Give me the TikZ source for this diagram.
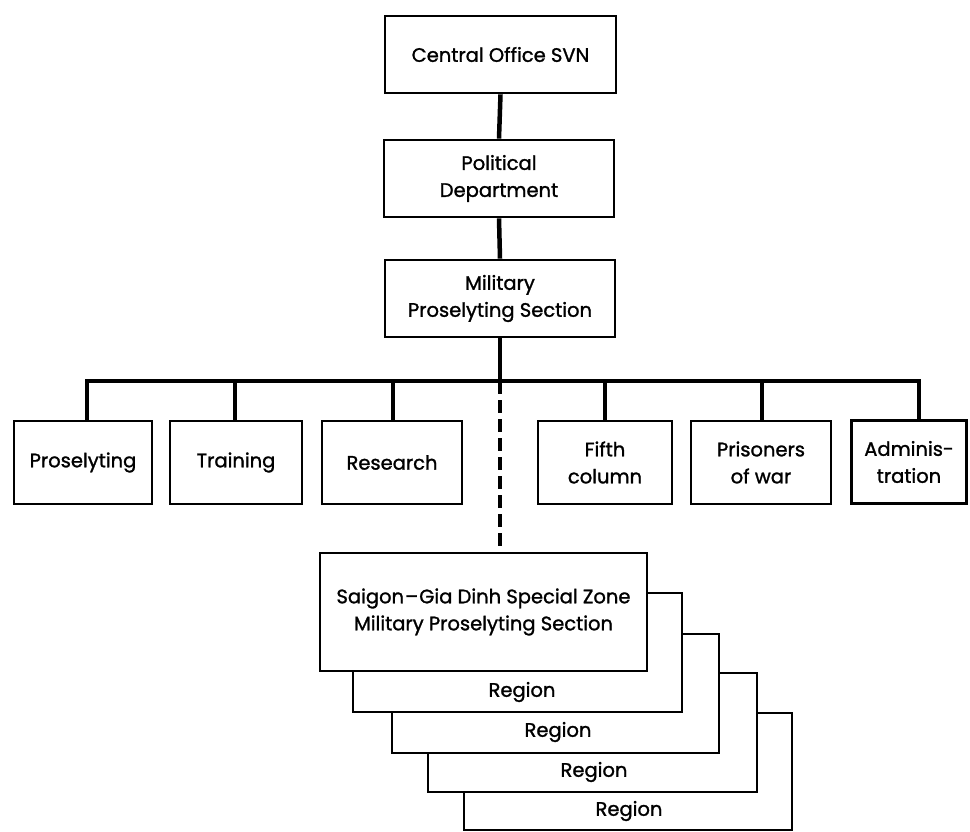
\documentclass[tikz,border=0pt]{standalone}
\usepackage{fontspec}
\setmainfont{Poppins}[FakeBold=1.3]
\begin{document}
\begin{tikzpicture}[x=1pt,y=-1pt,
  box/.style={draw=black, line width=2.7pt, fill=white, align=center, inner sep=0pt,
    font=\fontsize{19.5}{27}\selectfont},
  conn/.style={draw=black, line width=4.5pt},
  dconn/.style={draw=black, line width=4.5pt, dash pattern=on 13pt off 6pt},
  lbl/.style={font=\fontsize{19.5}{27}\selectfont, inner sep=0pt}]
\useasboundingbox (0,0) rectangle (970,832);
% top chain
\node[box, minimum width=231pt, minimum height=77pt] (cen) at (500.5,54.5) {Central Office SVN};
\node[box, minimum width=230pt, minimum height=77pt] (pol) at (499,178.5) {Political\\Department};
\node[box, minimum width=230pt, minimum height=77pt] (mil) at (500,298.5) {Military\\Proselyting Section};
\draw[conn] (cen.south) -- (pol.north);
\draw[conn] (pol.south) -- (mil.north);
% bus
\coordinate (bus) at (500,381);
\coordinate (busL) at (87,381);
\coordinate (busR) at (919,381);
\draw[conn] (mil.south) -- (bus);
\draw[conn, line cap=rect] (busL) -- (busR);
% sections
\node[box, minimum width=138pt, minimum height=83pt] (pro) at (83,462.5) {Proselyting};
\node[box, minimum width=132pt, minimum height=83pt] (tra) at (236,462.5) {Training};
\node[box, minimum width=140pt, minimum height=83pt] (res) at (392,462.5) {Research};
\node[box, minimum width=134pt, minimum height=83pt] (fif) at (605,462.5) {Fifth\\column};
\node[box, minimum width=140pt, minimum height=83pt] (pri) at (761,462.5) {Prisoners\\of war};
\node[box, minimum width=115pt, minimum height=83pt] (adm) at (909,462) {Adminis-\\tration};
\draw[conn] (busL) -- (busL |- pro.north);
\draw[conn] (235,381) -- (235,381 |- tra.north);
\draw[conn] (393,381) -- (393,381 |- res.north);
\draw[conn] (605,381) -- (605,381 |- fif.north);
\draw[conn] (762,381) -- (762,381 |- pri.north);
\draw[conn] (busR) -- (busR |- adm.north);
% region stack (back to front)
\node[box, minimum width=328pt, minimum height=117pt] (r4) at (628,771.5) {};
\node[box, minimum width=329pt, minimum height=119pt] (r3) at (592.5,732.5) {};
\node[box, minimum width=327pt, minimum height=119pt] (r2) at (555.5,693.5) {};
\node[box, minimum width=329pt, minimum height=119pt] (r1) at (517.5,652.5) {};
\node[box, minimum width=327pt, minimum height=118pt] (sai) at (483.5,612) {Saigon{\kern1pt}--{\kern1pt}Gia Dinh Special Zone\\Military Proselyting Section};
\node[lbl] (l1) at (522,692) {Region};
\node[lbl] (l2) at (558,732) {Region};
\node[lbl] (l3) at (594,772) {Region};
\node[lbl] (l4) at (629,811) {Region};
\draw[dconn] (bus) -- (bus |- sai.north);
\end{tikzpicture}
\end{document}
